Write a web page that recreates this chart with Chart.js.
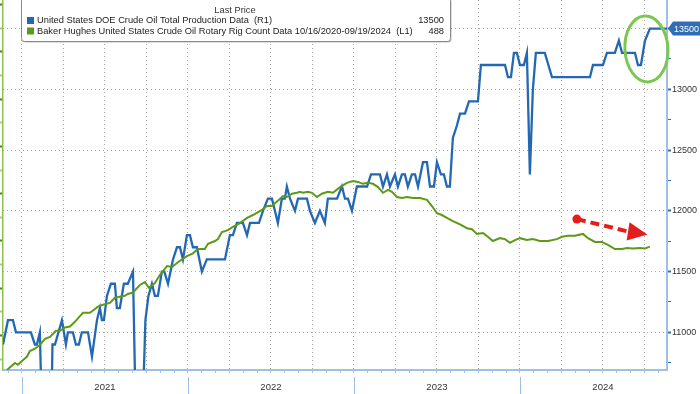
<!DOCTYPE html>
<html>
<head>
<meta charset="utf-8">
<script src="https://cdn.jsdelivr.net/npm/chart.js@4.4.1/dist/chart.umd.min.js"></script>
<style>
  html, body { margin: 0; padding: 0; background: #fff; }
  #wrap { width: 700px; height: 394px; }
</style>
</head>
<body>
<div id="wrap"><canvas id="chart"></canvas></div>
<script>
// weekly US crude production (thousand b/d), dates as decimal years
const productionDates = [
  2020.886, 2020.916, 2020.946, 2020.964, 2021.054, 2021.078, 2021.090, 2021.108, 2021.130, 2021.151,
  2021.172, 2021.184, 2021.199, 2021.241, 2021.265, 2021.277, 2021.307, 2021.325, 2021.343, 2021.361,
  2021.398, 2021.422, 2021.452, 2021.470, 2021.482, 2021.494, 2021.512, 2021.536, 2021.560, 2021.572,
  2021.590, 2021.614, 2021.638, 2021.669, 2021.690, 2021.708, 2021.726, 2021.744, 2021.762, 2021.783,
  2021.801, 2021.819, 2021.843, 2021.858, 2021.880, 2021.910, 2021.934, 2021.952, 2021.970, 2021.994,
  2022.012, 2022.030, 2022.054, 2022.084, 2022.114, 2022.223, 2022.253, 2022.271, 2022.295, 2022.331,
  2022.356, 2022.374, 2022.428, 2022.452, 2022.482, 2022.506, 2022.542, 2022.566, 2022.584, 2022.596,
  2022.615, 2022.645, 2022.663, 2022.717, 2022.735, 2022.765, 2022.795, 2022.825, 2022.843, 2022.898,
  2022.928, 2022.946, 2022.964, 2022.988, 2023.018, 2023.079, 2023.103, 2023.157, 2023.175, 2023.199,
  2023.217, 2023.247, 2023.265, 2023.289, 2023.307, 2023.325, 2023.349, 2023.368, 2023.386, 2023.416,
  2023.440, 2023.458, 2023.482, 2023.500, 2023.524, 2023.542, 2023.560, 2023.578, 2023.596, 2023.620,
  2023.639, 2023.669, 2023.693, 2023.747, 2023.765, 2023.910, 2023.928, 2023.946, 2023.964, 2023.982,
  2024.000, 2024.024, 2024.042, 2024.060, 2024.078, 2024.096, 2024.150, 2024.193, 2024.422, 2024.440,
  2024.500, 2024.524, 2024.572, 2024.596, 2024.615, 2024.693, 2024.711, 2024.729, 2024.753, 2024.783,
  2024.886
];
const productionValues = [
  10900, 11100, 11100, 11000, 11000, 10900, 10900, 11000, 9800, 9700,
  9900, 10900, 10900, 11100, 10900, 11000, 11000, 10900, 10900, 11000,
  11000, 10800, 11100, 11200, 11100, 11100, 11300, 11400, 11400, 11200,
  11200, 11400, 11400, 11500, 10000, 10000, 10300, 11100, 11300, 11400,
  11300, 11300, 11500, 11500, 11400, 11600, 11700, 11700, 11600, 11800,
  11800, 11700, 11700, 11500, 11600, 11600, 11800, 11800, 11900, 11900,
  11800, 11900, 11900, 12000, 12100, 12100, 11900, 12100, 12100, 12200,
  12100, 12000, 12100, 12100, 12000, 11900, 12000, 11900, 12100, 12100,
  12200, 12100, 12100, 12000, 12200, 12200, 12300, 12300, 12200, 12300,
  12200, 12300, 12200, 12300, 12300, 12200, 12300, 12300, 12200, 12400,
  12400, 12200, 12200, 12400, 12300, 12300, 12200, 12200, 12600, 12700,
  12800, 12800, 12900, 12900, 13200, 13200, 13100, 13100, 13300, 13300,
  13200, 13200, 13300, 12300, 13000, 13300, 13300, 13100, 13100, 13200,
  13200, 13300, 13300, 13400, 13300, 13300, 13200, 13200, 13400, 13500,
  13500
];

// Baker Hughes oil rig count
const rigDates = [
  2020.910, 2020.958, 2020.976, 2021.000, 2021.030, 2021.048, 2021.078, 2021.108, 2021.139, 2021.169,
  2021.205, 2021.229, 2021.259, 2021.289, 2021.319, 2021.349, 2021.368, 2021.410, 2021.440, 2021.458,
  2021.488, 2021.530, 2021.560, 2021.590, 2021.620, 2021.638, 2021.669, 2021.711, 2021.741, 2021.765,
  2021.801, 2021.831, 2021.874, 2021.904, 2021.940, 2021.994, 2022.030, 2022.060, 2022.102, 2022.121,
  2022.163, 2022.181, 2022.205, 2022.241, 2022.271, 2022.313, 2022.356, 2022.392, 2022.446, 2022.476,
  2022.506, 2022.524, 2022.554, 2022.572, 2022.596, 2022.627, 2022.657, 2022.675, 2022.693, 2022.723,
  2022.747, 2022.777, 2022.807, 2022.843, 2022.874, 2022.916, 2022.958, 2022.994, 2023.024, 2023.054,
  2023.084, 2023.115, 2023.145, 2023.175, 2023.205, 2023.229, 2023.259, 2023.289, 2023.319, 2023.356,
  2023.398, 2023.440, 2023.470, 2023.500, 2023.530, 2023.560, 2023.596, 2023.639, 2023.681, 2023.711,
  2023.741, 2023.777, 2023.807, 2023.837, 2023.880, 2023.910, 2023.940, 2023.970, 2024.000, 2024.042,
  2024.078, 2024.120, 2024.169, 2024.223, 2024.253, 2024.289, 2024.331, 2024.380, 2024.410, 2024.452,
  2024.494, 2024.530, 2024.572, 2024.615, 2024.645, 2024.681, 2024.723, 2024.753, 2024.783
];
const rigValues = [
  227, 242, 238, 246, 255, 267, 272, 280, 293, 297,
  310, 310, 317, 319, 329, 341, 348, 348, 356, 361,
  365, 369, 380, 382, 384, 388, 391, 407, 413, 401,
  411, 428, 447, 445, 455, 468, 474, 483, 483, 494,
  500, 504, 519, 523, 530, 538, 549, 555, 566, 574,
  574, 580, 589, 595, 593, 600, 602, 604, 602, 604,
  602, 593, 600, 604, 602, 614, 623, 627, 625, 621,
  623, 621, 614, 602, 608, 604, 593, 591, 593, 591,
  591, 587, 574, 559, 555, 549, 542, 535, 527, 525,
  515, 517, 509, 500, 506, 504, 496, 502, 506, 502,
  504, 500, 500, 504, 509, 511, 511, 515, 506, 498,
  498, 492, 483, 483, 485, 484, 485, 484, 488
];

const yearLabels = [2021, 2022, 2023, 2024];
const productionTicks = [11000, 11500, 12000, 12500, 13000, 13500];
const rigTicks = [300, 400, 500, 600, 700, 800, 900, 1000];

const seriesNames = [
  'United States DOE Crude Oil Total Production Data  (R1)',
  'Baker Hughes United States Crude Oil Rotary Rig Count Data 10/16/2020-09/19/2024  (L1)'
];

const BLUE = '#2468b4';
const GREEN = '#5c9a18';
const AXIS_BLUE = '#9fc0e4';
const FONT = '"Liberation Sans", Arial, sans-serif';

const lastProd = productionValues[productionValues.length - 1];
const lastRig = rigValues[rigValues.length - 1];

// month positions for the bottom axis
const monthTicks = [];
for (let y = 2020; y <= 2024; y++) {
  for (let m = 0; m < 12; m++) {
    const v = y + m / 12;
    if (v > 2020.886 && v < 2024.886) monthTicks.push(v);
  }
}
const monthOf = v => Math.round((v - Math.floor(v + 1e-6)) * 12) % 12;

const noPad = s => { s.paddingTop = 0; s.paddingBottom = 0; s.paddingLeft = 0; s.paddingRight = 0; };

const overlay = {
  id: 'overlay',
  afterDraw(chart) {
    const { ctx, chartArea } = chart;
    const x = chart.scales.x;
    const prod = chart.scales.prod;
    ctx.save();

    // year separators under the axis
    ctx.strokeStyle = AXIS_BLUE;
    ctx.lineWidth = 1;
    yearLabels.forEach(yr => {
      const px = Math.round(x.getPixelForValue(yr)) + 0.5;
      ctx.beginPath();
      ctx.moveTo(px, chartArea.bottom + 7);
      ctx.lineTo(px, chart.height);
      ctx.stroke();
    });

    // last value tag on the right axis
    const ty = prod.getPixelForValue(lastProd);
    ctx.fillStyle = '#2f6db5';
    ctx.beginPath();
    ctx.moveTo(chartArea.right + 1, ty);
    ctx.lineTo(chartArea.right + 6, ty - 7);
    ctx.lineTo(chart.width, ty - 7);
    ctx.lineTo(chart.width, ty + 7);
    ctx.lineTo(chartArea.right + 6, ty + 7);
    ctx.closePath();
    ctx.fill();
    ctx.fillStyle = '#fff';
    ctx.font = '9px ' + FONT;
    ctx.textBaseline = 'middle';
    ctx.textAlign = 'left';
    ctx.fillText(String(lastProd), chartArea.right + 7, ty + 0.5);

    // green ellipse around latest production
    ctx.strokeStyle = '#7cc652';
    ctx.lineWidth = 3;
    ctx.beginPath();
    ctx.ellipse(x.getPixelForValue(2024.762), prod.getPixelForValue(13332), 21.5, 33, -0.06, 0, Math.PI * 2);
    ctx.stroke();

    // red dashed arrow pointing at the rig count
    const sx = x.getPixelForValue(2024.343), sy = prod.getPixelForValue(11932);
    const tx = x.getPixelForValue(2024.768), tyy = prod.getPixelForValue(11806);
    const b1x = x.getPixelForValue(2024.660), b1y = prod.getPixelForValue(11905);
    const b2x = x.getPixelForValue(2024.643), b2y = prod.getPixelForValue(11755);
    ctx.strokeStyle = '#e41d1d';
    ctx.fillStyle = '#e41d1d';
    ctx.lineWidth = 4;
    ctx.setLineDash([9, 5]);
    ctx.beginPath();
    ctx.moveTo(sx, sy);
    ctx.lineTo((b1x + b2x) / 2, (b1y + b2y) / 2);
    ctx.stroke();
    ctx.setLineDash([]);
    ctx.beginPath();
    ctx.arc(sx, sy, 4.5, 0, Math.PI * 2);
    ctx.fill();
    ctx.beginPath();
    ctx.moveTo(b1x, b1y);
    ctx.lineTo(tx, tyy);
    ctx.lineTo(b2x, b2y);
    ctx.closePath();
    ctx.fill();

    // legend box
    const bx = 21, by = -3, bw = 429, bh = 44;
    ctx.fillStyle = 'rgba(0,0,0,0.25)';
    ctx.beginPath();
    ctx.roundRect(bx + 1.5, by + 1.5, bw, bh, 3);
    ctx.fill();
    ctx.fillStyle = '#fff';
    ctx.strokeStyle = '#8a8a8a';
    ctx.lineWidth = 1;
    ctx.beginPath();
    ctx.roundRect(bx + 0.5, by + 0.5, bw, bh, 3);
    ctx.fill();
    ctx.stroke();

    ctx.font = '9.3px ' + FONT;
    ctx.fillStyle = '#333';
    ctx.textAlign = 'center';
    ctx.fillText('Last Price', 235, 10.5);
    const rows = [
      { color: BLUE, name: seriesNames[0], value: lastProd, y: 20.5 },
      { color: GREEN, name: seriesNames[1], value: lastRig, y: 31 }
    ];
    rows.forEach(r => {
      ctx.fillStyle = r.color;
      ctx.fillRect(27, r.y - 3.5, 7, 7);
      ctx.fillStyle = '#222';
      ctx.textAlign = 'left';
      ctx.fillText(r.name, 37, r.y);
      ctx.textAlign = 'right';
      ctx.fillText(String(r.value), 444, r.y);
    });
    ctx.restore();
  }
};

new Chart(document.getElementById('chart'), {
  type: 'line',
  data: {
    datasets: [
      {
        label: seriesNames[0],
        data: productionDates.map((d, i) => ({ x: d, y: productionValues[i] })),
        yAxisID: 'prod',
        borderColor: BLUE,
        borderWidth: 2.3,
        pointRadius: 0,
        tension: 0,
        order: 1
      },
      {
        label: seriesNames[1],
        data: rigDates.map((d, i) => ({ x: d, y: rigValues[i] })),
        yAxisID: 'rig',
        borderColor: GREEN,
        borderWidth: 2,
        pointRadius: 0,
        tension: 0,
        order: 0
      }
    ]
  },
  options: {
    responsive: true,
    maintainAspectRatio: false,
    animation: false,
    layout: { padding: 0 },
    plugins: { legend: { display: false }, tooltip: { enabled: false } },
    scales: {
      x: {
        type: 'linear',
        position: 'bottom',
        min: 2020.886,
        max: 2024.886,
        afterBuildTicks: s => { s.ticks = monthTicks.map(v => ({ value: v })); },
        afterFit: s => { s.height = 24; noPad(s); },
        grid: {
          color: c => (c.tick && monthOf(c.tick.value) % 3 === 0) ? '#a8a8a8' : 'rgba(0,0,0,0)',
          lineWidth: 1,
          tickLength: 3,
          tickColor: AXIS_BLUE
        },
        border: { color: AXIS_BLUE, width: 2, dash: [1, 3] },
        ticks: {
          autoSkip: false,
          maxRotation: 0,
          padding: 9,
          color: '#333',
          font: { family: FONT, size: 9.5 },
          callback: v => monthOf(v) === 6 ? String(Math.floor(v)) : ''
        }
      },
      prod: {
        type: 'linear',
        position: 'right',
        min: 10690,
        max: 13735,
        afterBuildTicks: s => {
          const t = [];
          for (let v = productionTicks[0] - 250; v <= productionTicks[productionTicks.length - 1]; v += 250) t.push({ value: v });
          s.ticks = t;
        },
        afterFit: s => { s.width = 33; noPad(s); },
        grid: {
          color: c => (c.tick && productionTicks.includes(c.tick.value)) ? '#a8a8a8' : 'rgba(0,0,0,0)',
          tickLength: 4,
          tickColor: '#2f6db5',
          tickWidth: c => (c.tick && productionTicks.includes(c.tick.value)) ? 2 : 1
        },
        border: { color: AXIS_BLUE, width: 2, dash: [1, 3] },
        ticks: {
          padding: 1,
          color: '#333',
          font: { family: FONT, size: 9 },
          callback: v => (productionTicks.includes(v) && v !== lastProd) ? String(v) : ''
        }
      },
      rig: {
        type: 'linear',
        position: 'left',
        min: 227,
        max: 1010,
        afterBuildTicks: s => {
          const t = [];
          for (let v = rigTicks[0] - 50; v <= rigTicks[rigTicks.length - 1]; v += 50) t.push({ value: v });
          s.ticks = t;
        },
        afterFit: s => { s.width = 3; noPad(s); },
        grid: {
          drawOnChartArea: false,
          tickLength: 3,
          tickColor: c => (c.tick && rigTicks.includes(c.tick.value)) ? '#4a8a10' : '#a5d17a',
          tickWidth: 2
        },
        border: { color: '#8cc152', width: 1.5 },
        ticks: { display: false }
      }
    }
  },
  plugins: [overlay]
});
</script>
</body>
</html>
